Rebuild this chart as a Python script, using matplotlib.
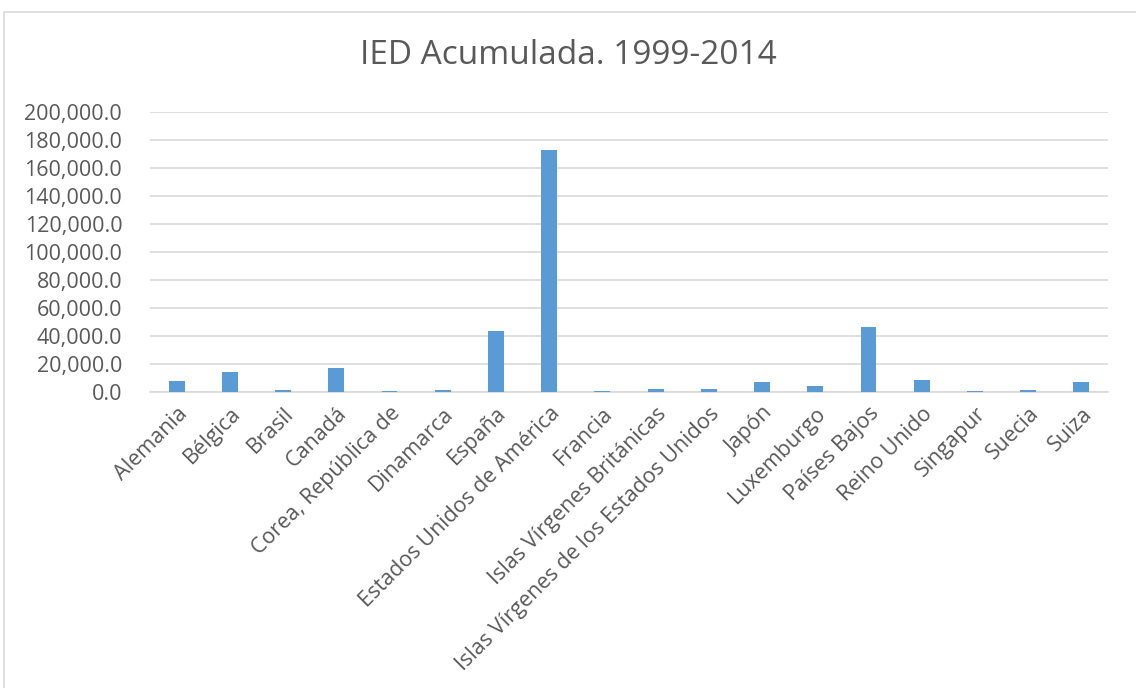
import matplotlib.pyplot as plt
import numpy as np
from matplotlib.patches import Rectangle
from matplotlib.ticker import FuncFormatter

# IED acumulada 1999-2014 (millones)
paises = ['Alemania', 'Bélgica', 'Brasil', 'Canadá', 'Corea, República de',
          'Dinamarca', 'España', 'Estados Unidos de América', 'Francia',
          'Islas Vírgenes Británicas', 'Islas Vírgenes de los Estados Unidos',
          'Japón', 'Luxemburgo', 'Países Bajos', 'Reino Unido', 'Singapur',
          'Suecia', 'Suiza']
valores = [8100, 14500, 1400, 17400, 1000, 1600, 43600, 173000, 700,
           2400, 2100, 7400, 4500, 46700, 8600, 700, 1200, 7400]
y_ticks = [0, 20000, 40000, 60000, 80000, 100000, 120000, 140000,
           160000, 180000, 200000]

plt.rcParams['font.family'] = ['Open Sans', 'DejaVu Sans']
text_color = '#595959'

fig = plt.figure(figsize=(11.36, 6.88), dpi=100)
ax = fig.add_axes([150 / 1136, 1 - 392 / 688, (1108 - 150) / 1136, 280 / 688])

x = np.arange(len(paises))
ax.bar(x, valores, width=0.3, color='#5B9BD5', zorder=3)

ax.set_xlim(-0.5, len(paises) - 0.5)
ax.set_ylim(0, 200000)
ax.set_yticks(y_ticks)
ax.yaxis.set_major_formatter(FuncFormatter(lambda v, p: f'{v:,.1f}'))
ax.grid(axis='y', color='#D9D9D9', linewidth=1.2, zorder=0)
for s in ['top', 'right', 'left']:
    ax.spines[s].set_visible(False)
ax.spines['bottom'].set_color('#D9D9D9')
ax.spines['bottom'].set_linewidth(1.2)
ax.tick_params(axis='both', length=0, colors=text_color, labelsize=15.5)
ax.tick_params(axis='y', pad=20)
ax.set_xticks(x)
ax.set_xticklabels(paises, rotation=45, ha='right', rotation_mode='anchor')
ax.tick_params(axis='x', pad=8)

fig.text(0.5, 1 - 55 / 688, 'IED Acumulada. 1999-2014', ha='center', va='center',
         fontsize=24, color=text_color)

# chart border
fig.patches.append(Rectangle((4 / 1136, -0.01), 1.0, 1 - 12 / 688 + 0.01,
                             transform=fig.transFigure, fill=False,
                             edgecolor='#D9D9D9', linewidth=1.2))

fig.savefig('out.png', dpi=100)
